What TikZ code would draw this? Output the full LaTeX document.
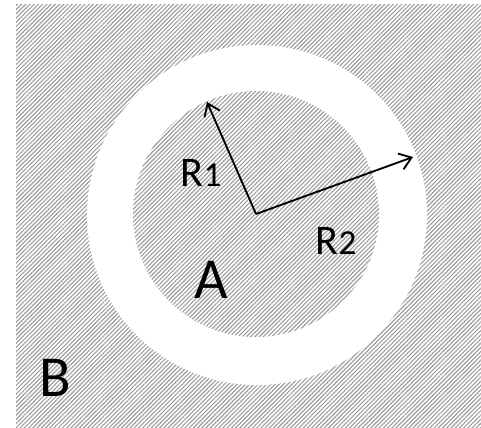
\documentclass[tikz,border=0pt]{standalone}
\usepackage{fontspec}
\setmainfont{Carlito}
\usetikzlibrary{arrows.meta, patterns.meta}

\begin{document}
\begin{tikzpicture}[x=0.02cm, y=-0.02cm,
        hatched/.style={draw=none, pattern={Lines[angle=45, distance=1.7pt, line width=0.65pt]}, pattern color=black!38},
        radiusarrow/.style={-{Straight Barb[length=6.5pt, width=9.5pt]}, line width=1.05pt, black},
        biglbl/.style={inner sep=0pt, font=\fontsize{33}{33}\selectfont},
        rlbl/.style={inner sep=0pt, font=\fontsize{24}{24}\selectfont}
    ]
        \useasboundingbox (0,0) rectangle (481,427);
        \fill[hatched] (16,4) rectangle (481,427);
        \fill[white] (257,215) circle (170);
        \fill[hatched] (256,214) circle (123);
        \coordinate (o) at (256,214);
        \coordinate (r1end) at (207,102);
        \coordinate (r2end) at (413,157);
        \node[rlbl] (r1) at (201,173) {R{\fontsize{20}{20}\selectfont 1}};
        \node[rlbl] (r2) at (336,241) {R{\fontsize{20}{20}\selectfont 2}};
        \node[biglbl] (a) at (211,280) {A};
        \node[biglbl] (b) at (55,378) {B};
        \foreach \e in {r1end, r2end}
            \draw[radiusarrow] (o) -- (\e);
    \end{tikzpicture}
\end{document}
